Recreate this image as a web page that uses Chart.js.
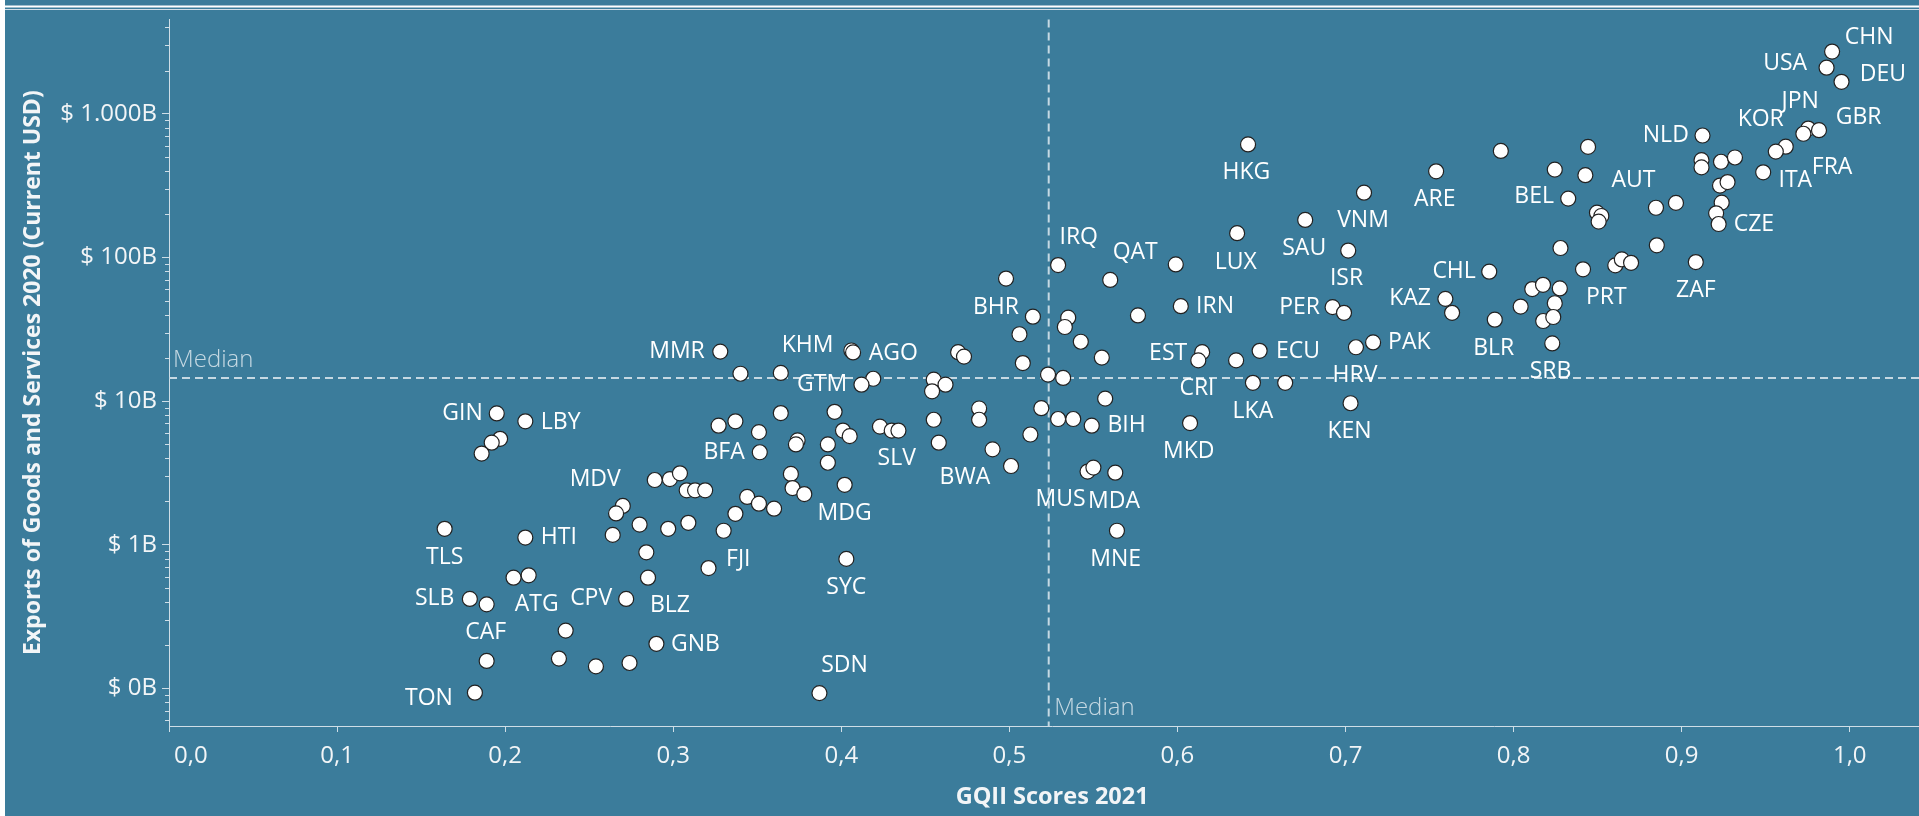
<!DOCTYPE html>
<html>
<head>
<meta charset="utf-8">
<title>GQII Scores vs Exports</title>
<script src="https://cdn.jsdelivr.net/npm/chart.js@4.4.0/dist/chart.umd.min.js"></script>
<style>
  html, body { margin: 0; padding: 0; background: #fff; overflow: hidden; }
  #wrap { position: relative; width: 1919px; height: 816px; overflow: hidden; }
  #chartCanvas { position: absolute; left: 0; top: 0; background: #3b7c9b; }
  #edge { position: absolute; left: 0; top: 0; width: 5px; height: 816px; background: #fff; }
</style>
</head>
<body>
<div id="wrap">
  <canvas id="chartCanvas" width="1944" height="816"></canvas>
  <div id="edge"></div>
</div>
<script>
// country codes ('' = point without a label in the picture)
var codes = [
  'GIN','LBY','','','','MDV','','','','','','','TLS','HTI','','','','ATG','BLZ','SLB',
  'CAF','CPV','','GNB','','','','','TON','','','','','','FJI','','','','','',
  '','','MDG','SYC','SDN','MMR','','','KHM','AGO','','','','GTM','','','','','','',
  '','','','BIH','','','','','','','BFA','','','','','','','','','SLV',
  '','','','','BWA','','MUS','','MDA','MNE','','IRQ','QAT','','IRN','','BHR','','','',
  '','','','MKD','EST','CRI','','ECU','LKA','','HKG','LUX','SAU','VNM','ISR','PER','','PAK','HRV','KEN',
  'ARE','','','','','BEL','','','','CHL','KAZ','','BLR','','','','','','','',
  'SRB','','PRT','','','','AUT','','','ZAF','NLD','','','','','','','','','CZE',
  'ITA','KOR','','JPN','FRA','GBR','CHN','USA','DEU'
];

// GQII score 2021
var gqii = [
  0.195,0.212,0.197,0.192,0.186,0.289,0.298,0.304,0.270,0.266,0.280,0.297,0.164,0.212,0.264,0.284,0.205,0.214,0.285,0.179,
  0.189,0.272,0.236,0.290,0.189,0.232,0.254,0.274,0.182,0.308,0.313,0.319,0.309,0.330,0.321,0.337,0.344,0.351,0.360,0.370,
  0.371,0.378,0.402,0.403,0.387,0.328,0.340,0.364,0.406,0.407,0.4695,0.473,0.419,0.412,0.455,0.462,0.454,0.523,0.532,0.557,
  0.519,0.529,0.538,0.549,0.5125,0.364,0.396,0.327,0.337,0.351,0.3515,0.374,0.373,0.392,0.392,0.401,0.405,0.423,0.430,0.434,
  0.455,0.458,0.482,0.482,0.490,0.501,0.5465,0.550,0.563,0.564,0.498,0.529,0.560,0.599,0.602,0.5765,0.514,0.535,0.533,0.506,
  0.5425,0.555,0.508,0.6075,0.6147,0.6124,0.6349,0.6489,0.6449,0.6641,0.642,0.6355,0.676,0.711,0.7016,0.6923,0.6991,0.7164,0.7062,0.703,
  0.7539,0.7924,0.8443,0.8245,0.8427,0.8325,0.8496,0.8522,0.8506,0.7855,0.7594,0.7634,0.7888,0.8042,0.8111,0.8175,0.8275,0.8245,0.8176,0.8236,
  0.823,0.8279,0.8413,0.8605,0.8644,0.8699,0.8847,0.8966,0.8852,0.9084,0.9124,0.9118,0.9118,0.9234,0.9317,0.9228,0.9273,0.9238,0.9205,0.922,
  0.9485,0.9619,0.956,0.9753,0.9724,0.9817,0.9895,0.9862,0.9951
];

// exports of goods and services 2020, billions of current USD
var exportsB = [
  8.20,7.23,5.46,5.13,4.31,2.82,2.86,3.14,1.86,1.65,1.38,1.29,1.29,1.12,1.17,0.885,0.589,0.612,0.589,0.419,
  0.384,0.419,0.252,0.204,0.155,0.161,0.142,0.150,0.0931,2.39,2.39,2.39,1.42,1.25,0.687,1.64,2.15,1.93,1.78,3.11,
  2.48,2.25,2.61,0.796,0.0925,22.1,15.5,15.7,22.5,21.8,21.9,20.4,14.3,13.0,14.1,13.0,11.7,15.3,14.5,10.4,
  8.92,7.50,7.50,6.74,5.85,8.25,8.42,6.74,7.23,6.08,4.40,5.32,4.99,4.99,3.72,6.23,5.70,6.64,6.23,6.23,
  7.41,5.13,8.88,7.41,4.61,3.53,3.23,3.44,3.17,1.25,71.3,88.5,69.8,89.5,45.8,39.5,38.7,38.1,32.8,29.2,
  25.9,20.1,18.4,7.03,21.9,19.2,19.2,22.4,13.4,13.4,613,147.6,182.5,282.5,111.7,45.1,41.2,25.6,23.7,9.66,
  398,552,589,409,374,257,205,194.5,177.7,79.6,51.5,41.2,36.9,45.5,60.3,64.5,60.9,48.0,36.1,38.5,
  25.2,116.4,82.7,88.1,96.9,91.8,222,240,121.5,92.9,707,476,424,464,497,317,335,241,203,171,
  392,591,546,790,727,770,2715,2097,1672
];

var medianGqii = 0.5234;
var medianExports = 14.46;

var yTickValues = [0.1, 1, 10, 100, 1000];
var yTickLabels = ['$ 0B', '$ 1B', '$ 10B', '$ 100B', '$ 1.000B'];

// where each label sits relative to its point: [textAlign, dx, dy]
var labelPlacement = {
  GIN: ['right', -14, 0], LBY: ['left', 15.5, 1], MDV: ['right', -34, -1], TLS: ['center', 0, 28.5],
  HTI: ['left', 15.5, 0], SLB: ['right', -15.5, 0], ATG: ['center', 8, 29], CAF: ['center', -1, 28],
  CPV: ['right', -14, 0], TON: ['right', -22, 6], BLZ: ['center', 22, 28], GNB: ['left', 14.5, 0.5],
  FJI: ['left', 17.5, -9], MDG: ['center', 0, 28.3], SYC: ['center', 0, 28.3], SDN: ['center', 25, -27.7],
  BFA: ['right', -15, 0], GTM: ['right', -14.3, 0], MMR: ['right', -15.5, 0], KHM: ['right', -18, -4.8],
  AGO: ['left', 15.7, 0.6], SLV: ['center', -1.7, 28.3], BWA: ['center', -27.7, 28.3], BHR: ['right', -14, -9.6],
  IRQ: ['center', 20.6, -27.3], QAT: ['center', 25, -27.3], MUS: ['center', -27, 27.7], MDA: ['center', -1.3, 29],
  MNE: ['center', -1.2, 28.3], BIH: ['left', 15.7, 0], EST: ['right', -15, 1], CRI: ['center', -1.3, 28.3],
  IRN: ['left', 15.3, 0.3], MKD: ['center', -1.3, 28.3], LKA: ['center', 0, 28.4], ECU: ['left', 16.3, 0.7],
  HKG: ['center', -1.6, 28.3], LUX: ['center', -1.3, 29], SAU: ['center', -1, 28.4], VNM: ['center', -1, 27.6],
  ISR: ['center', -1.7, 27.4], PER: ['right', -12.6, 0], HRV: ['center', -1, 28.4], PAK: ['left', 15, 0],
  KEN: ['center', -1, 28.3], ARE: ['center', -1.3, 27.7], CHL: ['right', -13.4, 0], KAZ: ['right', -14.4, 0],
  BLR: ['center', -1, 28.4], SRB: ['center', -1.7, 28.4], BEL: ['right', -14.3, -1.7], AUT: ['center', -22.5, -27],
  PRT: ['center', 23.3, 28.4], NLD: ['right', -13.7, 0], ZAF: ['center', 0, 28.3], CZE: ['left', 15, 0],
  ITA: ['left', 15.3, 7.7], FRA: ['center', 28.7, 33.3], KOR: ['center', -25, -27.3], JPN: ['center', -8, -27.4],
  GBR: ['left', 16.7, -13], CHN: ['left', 12.7, -14.4], USA: ['right', -19.4, -4], DEU: ['left', 18.3, -7.3]
};

var axisColor = '#cfdee7';
var textColor = '#f2f5f7';
var medianColor = '#c6d9e3';
var fontFamily = "'Open Sans', sans-serif";

Chart.defaults.font.family = fontFamily;

// white rule at the very top and the light border of the plot
var frameLines = {
  id: 'frameLines',
  afterDraw: function(chart) {
    var ctx = chart.ctx;
    ctx.save();
    ctx.fillStyle = '#ffffff';
    ctx.fillRect(0, 5.5, chart.width, 2);
    ctx.fillStyle = axisColor;
    ctx.fillRect(0, 9, chart.width, 1);
    ctx.restore();
  }
};

// dashed median lines with their captions
var medianLines = {
  id: 'medianLines',
  beforeDatasetsDraw: function(chart) {
    var ctx = chart.ctx;
    var area = chart.chartArea;
    var mx = chart.scales.x.getPixelForValue(medianGqii);
    var my = chart.scales.y.getPixelForValue(medianExports);
    ctx.save();
    ctx.strokeStyle = medianColor;
    ctx.lineWidth = 2;
    ctx.setLineDash([8, 5]);
    ctx.beginPath();
    ctx.moveTo(area.left, my);
    ctx.lineTo(area.right, my);
    ctx.moveTo(mx, area.top);
    ctx.lineTo(mx, area.bottom);
    ctx.stroke();
    ctx.setLineDash([]);
    ctx.fillStyle = medianColor;
    ctx.font = '300 24px ' + fontFamily;
    ctx.textBaseline = 'middle';
    ctx.textAlign = 'left';
    ctx.fillText('Median', area.left + 4, my - 18);
    ctx.fillText('Median', mx + 5.5, area.bottom - 18);
    ctx.restore();
  }
};

// small log ticks between the labelled decades
var minorTicks = {
  id: 'minorTicks',
  afterDraw: function(chart) {
    var ys = chart.scales.y;
    var ctx = chart.ctx;
    ctx.save();
    ctx.strokeStyle = axisColor;
    ctx.lineWidth = 1;
    ctx.beginPath();
    for (var p = -2; p <= 3; p++) {
      for (var m = 2; m <= 9; m++) {
        var v = m * Math.pow(10, p);
        if (v < ys.min || v > ys.max) continue;
        var y = Math.round(ys.getPixelForValue(v)) + 0.5;
        ctx.moveTo(ys.right - 4, y);
        ctx.lineTo(ys.right, y);
      }
    }
    ctx.stroke();
    ctx.restore();
  }
};

// country code labels next to the points
var pointLabels = {
  id: 'pointLabels',
  afterDatasetsDraw: function(chart) {
    var ctx = chart.ctx;
    var xs = chart.scales.x, ys = chart.scales.y;
    ctx.save();
    ctx.fillStyle = '#ffffff';
    ctx.font = '23px ' + fontFamily;
    ctx.textBaseline = 'middle';
    codes.forEach(function(code, i) {
      var place = labelPlacement[code];
      if (!code || !place) return;
      var px = xs.getPixelForValue(gqii[i]);
      var py = ys.getPixelForValue(exportsB[i]);
      ctx.textAlign = place[0];
      ctx.fillText(code, px + place[1], py + place[2]);
    });
    ctx.restore();
  }
};

var ctx = document.getElementById('chartCanvas').getContext('2d');
var chart = new Chart(ctx, {
  type: 'scatter',
  data: {
    datasets: [{
      data: gqii.map(function(x, i) { return { x: x, y: exportsB[i] }; }),
      backgroundColor: '#ffffff',
      borderColor: '#222222',
      borderWidth: 1.2,
      pointRadius: 7.5,
      pointHoverRadius: 7.5
    }]
  },
  options: {
    responsive: false,
    animation: false,
    devicePixelRatio: 1,
    layout: { padding: { top: 10, left: 0, right: 0, bottom: 0 } },
    plugins: {
      legend: { display: false },
      tooltip: { enabled: false }
    },
    scales: {
      x: {
        type: 'linear',
        min: 0,
        max: 1.0509,
        border: { color: axisColor, width: 1 },
        grid: { drawOnChartArea: false, tickLength: 6, tickColor: axisColor },
        ticks: {
          stepSize: 0.1,
          includeBounds: false,
          autoSkip: false,
          maxRotation: 0,
          color: textColor,
          font: { size: 24 },
          padding: 10,
          callback: function(v) {
            var s = v.toFixed(1).replace('.', ',');
            // the first label sits just right of the axis, not centred on it
            return v === 0 ? '       ' + s : s;
          }
        },
        title: {
          display: true,
          text: 'GQII Scores 2021',
          color: textColor,
          font: { size: 23.5, weight: 'bold' },
          padding: { top: 0, bottom: 5 }
        },
        afterFit: function(scale) { scale.height = 90; }
      },
      y: {
        type: 'logarithmic',
        min: 0.0546,
        max: 4550,
        border: { color: axisColor, width: 1 },
        grid: { drawOnChartArea: false, tickLength: 7, tickColor: axisColor },
        afterBuildTicks: function(scale) {
          scale.ticks = yTickValues.map(function(v) { return { value: v }; });
        },
        ticks: {
          autoSkip: false,
          color: textColor,
          font: { size: 24 },
          padding: 5,
          callback: function(v, i) { return yTickLabels[i]; }
        },
        title: {
          display: true,
          text: 'Exports of Goods and Services 2020 (Current USD)',
          color: textColor,
          font: { size: 23, weight: 'bold' },
          padding: { top: 19.5, bottom: 0 }
        },
        afterFit: function(scale) { scale.width = 169; }
      }
    }
  },
  plugins: [frameLines, medianLines, minorTicks, pointLabels]
});
</script>
</body>
</html>
